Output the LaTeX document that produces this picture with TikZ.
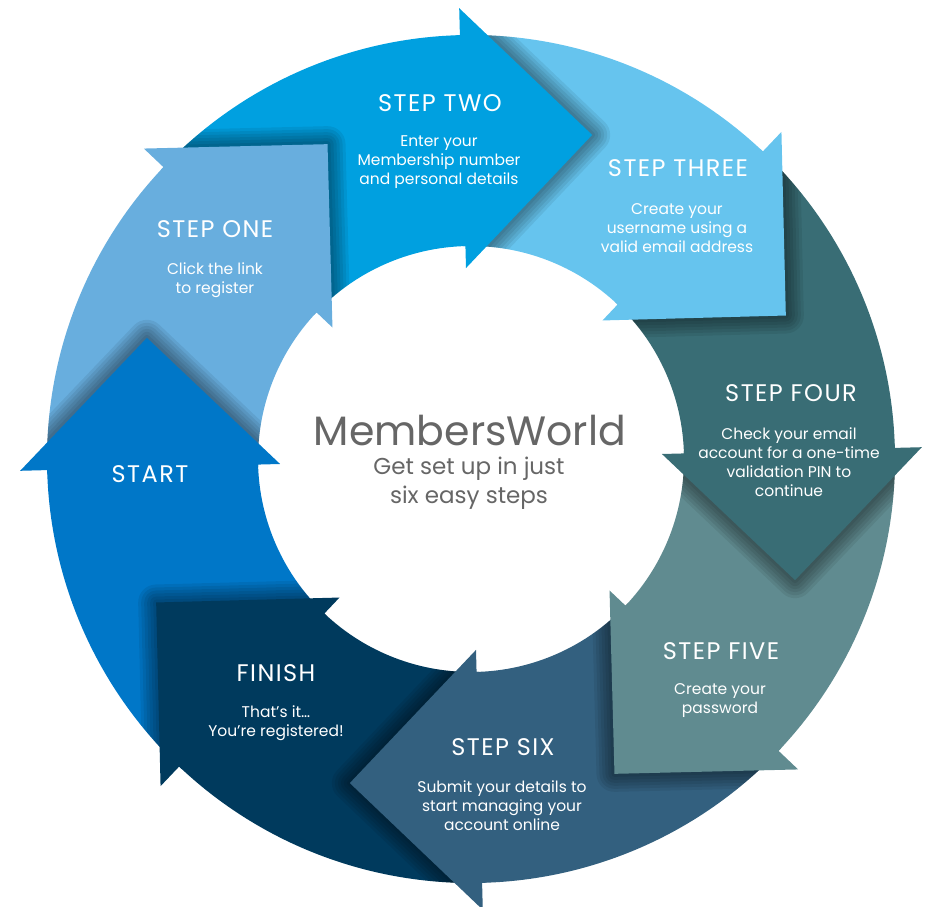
\documentclass[tikz,border=0pt]{standalone}
\usepackage{fontspec}
\setmainfont{Poppins}
\usepackage{tikz}
\usetikzlibrary{positioning}

\definecolor{startblue}{RGB}{0,119,200}
\definecolor{oneblue}{RGB}{104,174,222}
\definecolor{twoblue}{RGB}{0,160,224}
\definecolor{threeblue}{RGB}{102,196,238}
\definecolor{fourteal}{RGB}{57,109,117}
\definecolor{fiveteal}{RGB}{96,139,144}
\definecolor{sixslate}{RGB}{51,96,127}
\definecolor{finishnavy}{RGB}{0,58,93}
\definecolor{centregray}{RGB}{102,102,102}

\begin{document}
\begin{tikzpicture}[x=1pt, y=1pt,
  headshadow/.style={black, opacity=0.07, line join=round, line cap=round},
  steptitle/.style={text=white, font=\fontsize{24}{28}\selectfont\addfontfeature{LetterSpace=6}},
  steptext/.style={text=white, align=center, font=\fontsize{15.5}{19}\selectfont}]

\useasboundingbox (-471,-448) rectangle (455,459);

% Ring parts
\fill[startblue] (226.5:424) arc[start angle=226.5, end angle=181.5, radius=424] -- (181.5:213) arc[start angle=181.5, end angle=226.5, radius=213] -- cycle;
\fill[oneblue] (181.5:424) arc[start angle=181.5, end angle=136.5, radius=424] -- (136.5:213) arc[start angle=136.5, end angle=181.5, radius=213] -- cycle;
\fill[twoblue] (136.5:424) arc[start angle=136.5, end angle=91.5, radius=424] -- (91.5:213) arc[start angle=91.5, end angle=136.5, radius=213] -- cycle;
\fill[threeblue] (91.5:424) arc[start angle=91.5, end angle=46.5, radius=424] -- (46.5:213) arc[start angle=46.5, end angle=91.5, radius=213] -- cycle;
\fill[fourteal] (46.5:424) arc[start angle=46.5, end angle=1.5, radius=424] -- (1.5:213) arc[start angle=1.5, end angle=46.5, radius=213] -- cycle;
\fill[fiveteal] (1.5:424) arc[start angle=1.5, end angle=-43.5, radius=424] -- (-43.5:213) arc[start angle=-43.5, end angle=1.5, radius=213] -- cycle;
\fill[sixslate] (-43.5:424) arc[start angle=-43.5, end angle=-88.5, radius=424] -- (-88.5:213) arc[start angle=-88.5, end angle=-43.5, radius=213] -- cycle;
\fill[finishnavy] (-88.5:424) arc[start angle=-88.5, end angle=-133.5, radius=424] -- (-133.5:213) arc[start angle=-133.5, end angle=-88.5, radius=213] -- cycle;

% Soft shadows of the heads, kept inside the ring
\begin{scope}[even odd rule]
  \clip (0,0) circle[radius=424] (0,0) circle[radius=213];
  \foreach \w in {6pt,12pt,18pt,24pt,30pt,36pt}
    \draw[headshadow, line width=\w]
      (181.5:191) -- (159.5:346) -- (181.5:451)
      (136.5:191) -- (114.5:346) -- (136.5:451)
      (91.5:191) -- (69.5:346) -- (91.5:451)
      (46.5:191) -- (24.5:346) -- (46.5:451)
      (1.5:191) -- (-20.5:346) -- (1.5:451)
      (-43.5:191) -- (-65.5:346) -- (-43.5:451)
      (-88.5:191) -- (-110.5:346) -- (-88.5:451)
      (-133.5:191) -- (-155.5:346) -- (-133.5:451);
\end{scope}

% Arrow heads (each reaches a little back into its own part)
\fill[startblue] (181.5:191) -- (159.5:346) -- (181.5:451) -- (181.5:424) -- (182.1:424) -- (182.1:213) -- (181.5:213) -- cycle;
\fill[oneblue] (136.5:191) -- (114.5:346) -- (136.5:451) -- (136.5:424) -- (137.1:424) -- (137.1:213) -- (136.5:213) -- cycle;
\fill[twoblue] (91.5:191) -- (69.5:346) -- (91.5:451) -- (91.5:424) -- (92.1:424) -- (92.1:213) -- (91.5:213) -- cycle;
\fill[threeblue] (46.5:191) -- (24.5:346) -- (46.5:451) -- (46.5:424) -- (47.1:424) -- (47.1:213) -- (46.5:213) -- cycle;
\fill[fourteal] (1.5:191) -- (-20.5:346) -- (1.5:451) -- (1.5:424) -- (2.1:424) -- (2.1:213) -- (1.5:213) -- cycle;
\fill[fiveteal] (-43.5:191) -- (-65.5:346) -- (-43.5:451) -- (-43.5:424) -- (-42.9:424) -- (-42.9:213) -- (-43.5:213) -- cycle;
\fill[sixslate] (-88.5:191) -- (-110.5:346) -- (-88.5:451) -- (-88.5:424) -- (-87.9:424) -- (-87.9:213) -- (-88.5:213) -- cycle;
\fill[finishnavy] (-133.5:191) -- (-155.5:346) -- (-133.5:451) -- (-133.5:424) -- (-132.9:424) -- (-132.9:213) -- (-133.5:213) -- cycle;

% Nodes
\node at (-321,-15) (start) [steptitle] {START};
\node at (-256,230) (one) [steptitle] {STEP ONE};
\node at (-256,179) (one text) [steptext] {Click the link\\to register};
\node at (-31,356) (two) [steptitle] {STEP TWO};
\node at (-32,297) (two text) [steptext] {Enter your\\Membership number\\and personal details};
\node at (207,291) (three) [steptitle] {STEP THREE};
\node at (206,231) (three text) [steptext] {Create your\\username using a\\valid email address};
\node at (320,66) (four) [steptitle] {STEP FOUR};
\node at (318,-3) (four text) [steptext] {Check your email\\account for a one-time\\validation PIN to\\continue};
\node at (250,-192) (five) [steptitle] {STEP FIVE};
\node at (249,-242) (five text) [steptext] {Create your\\password};
\node at (32,-288) (six) [steptitle] {STEP SIX};
\node at (31,-347) (six text) [steptext] {Submit your details to\\start managing your\\account online};
\node at (-195,-214) (finish) [steptitle] {FINISH};
\node at (-195,-264) (finish text) [steptext] {That’s it…\\You’re registered!};

% Centre
\node at (-1,28) (members) [text=centregray, font=\fontsize{41}{48}\selectfont] {MembersWorld};
\node at (-2,-24) (easy) [text=centregray, align=center, font=\fontsize{23}{29}\selectfont] {Get set up in just\\six easy steps};

\end{tikzpicture}
\end{document}
